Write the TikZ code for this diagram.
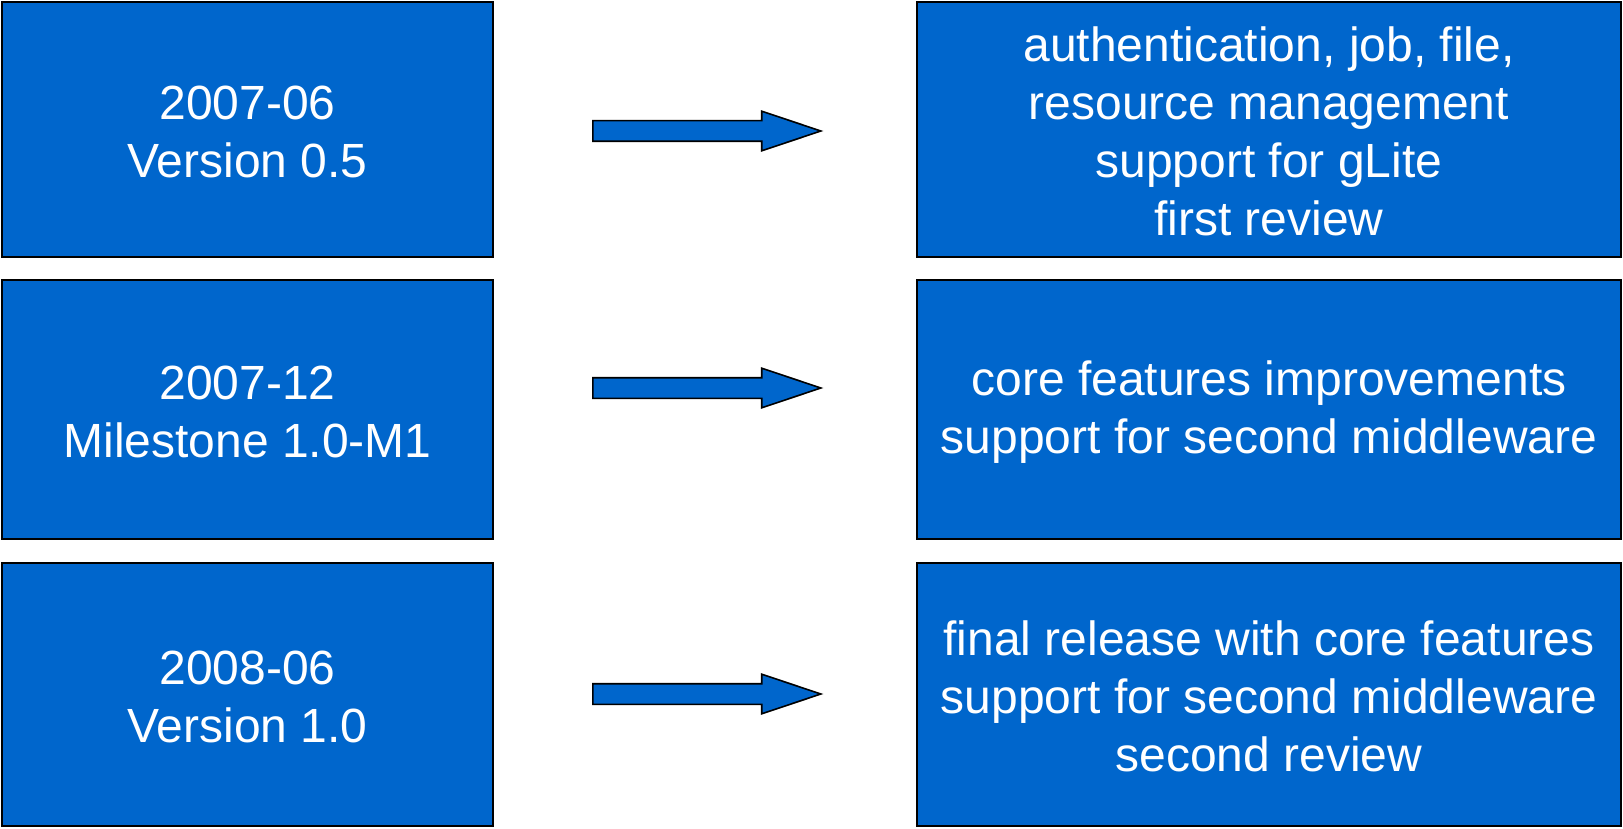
\documentclass[tikz,border=0pt]{standalone}
\usepackage{fontspec}
\setmainfont{Liberation Sans}
\usetikzlibrary{shapes.arrows}

\definecolor{boxblue}{HTML}{0066CC}
\newcommand\toplift{\rule{0pt}{19.5pt}}

\begin{document}
\begin{tikzpicture}[x=0.5pt,y=-0.5pt,
    box/.style={draw=black,line width=1pt,fill=boxblue,text=white,
        align=center,inner sep=0pt,font=\fontsize{24}{29}\selectfont},
    datebox/.style={box,minimum width=245.5pt},
    featbox/.style={box,minimum width=352pt},
    blockarrow/.style={single arrow,draw=black,line width=0.8pt,fill=boxblue,
        minimum height=114pt,minimum width=19pt,inner xsep=0pt,inner ysep=4.75pt,
        single arrow head extend=4.75pt,single arrow head indent=0pt,
        single arrow tip angle=37}]
    \useasboundingbox (0,0) rectangle (1623,829);

    % milestones
    \node[datebox,minimum height=127.5pt] (d1) at (247.5,129.5) {\toplift 2007-06\\Version 0.5};
    \node[datebox,minimum height=129.5pt] (d2) at (247.5,409.5) {\toplift 2007-12\\Milestone 1.0-M1};
    \node[datebox,minimum height=131.5pt] (d3) at (247.5,694.5) {\toplift 2008-06\\Version 1.0};

    % what they bring
    \node[featbox,minimum height=127.5pt] (f1) at (1269,129.5)
        {\toplift authentication, job, file,\\resource management\\support for gLite\\first review};
    \node[featbox,minimum height=129.5pt] (f2) at (1269,409.5)
        {\toplift core features improvements\\support for second middleware};
    \node[featbox,minimum height=131.5pt] (f3) at (1269,694.5)
        {\toplift final release with core features\\support for second middleware\\second review};

    % arrows
    \node[blockarrow] (a1) at (691.5,131) {};
    \node[blockarrow] (a2) at (691.5,388) {};
    \node[blockarrow] (a3) at (691.5,694) {};
\end{tikzpicture}
\end{document}
